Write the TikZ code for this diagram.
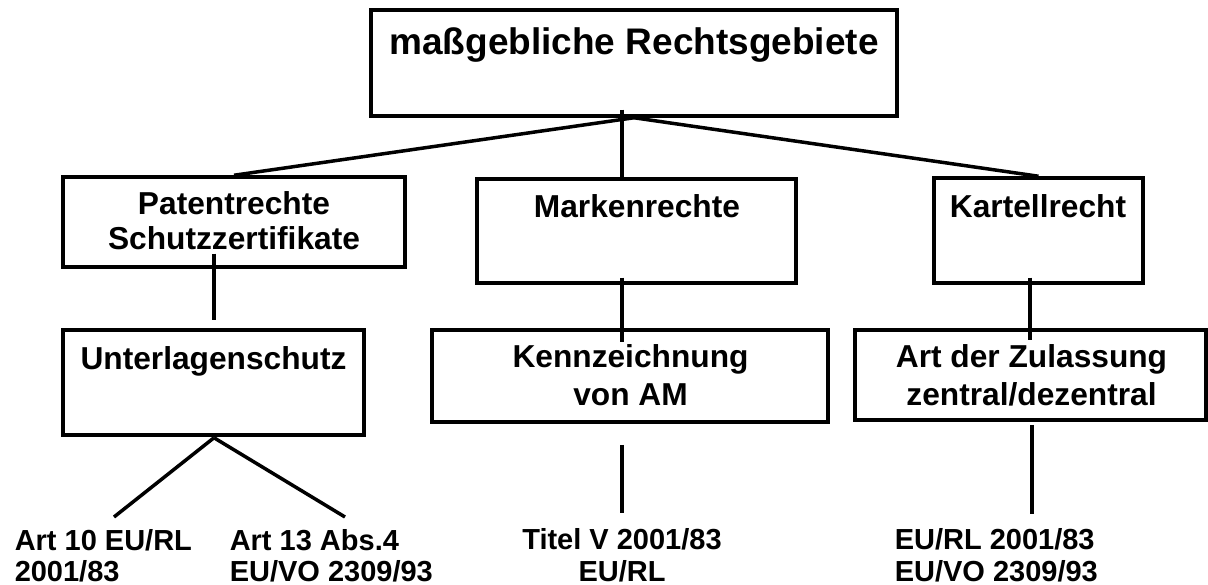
\documentclass[tikz,border=0pt]{standalone}
\usepackage{fontspec}
\setmainfont{Liberation Sans}
\usetikzlibrary{calc}
\newcommand\ftop{\fontsize{37}{44}\selectfont\bfseries}
\newcommand\fmid{\fontsize{31.7}{37}\selectfont\bfseries}
\newcommand\fbot{\fontsize{29}{33}\selectfont\bfseries}
\begin{document}
\begin{tikzpicture}[x=1pt,y=-1pt,line width=3.5pt,
  box/.style={draw=black,line width=3.5pt,inner sep=0pt,rectangle},
  lbl/.style={inner sep=0pt,anchor=base},
  lblw/.style={inner sep=0pt,anchor=base west},
  conn/.style={draw=black,line width=3.5pt}]
\useasboundingbox (0,0) rectangle (1208,585);
\fill[white] (0,0) rectangle (1208,585);
% boxes
\node[box,minimum width=526pt,minimum height=106pt] (top) at (634,63) {};
\node[box,minimum width=342pt,minimum height=90pt] (pat) at (234,222) {};
\node[box,minimum width=319pt,minimum height=104pt] (mark) at (636.5,231) {};
\node[box,minimum width=209pt,minimum height=105pt] (kart) at (1038.5,230.5) {};
\node[box,minimum width=301pt,minimum height=105pt] (unter) at (213.5,382.5) {};
\node[box,minimum width=396pt,minimum height=92pt] (kennz) at (630,376) {};
\node[box,minimum width=351pt,minimum height=90pt] (zul) at (1030.5,375) {};
% box texts
\node[lbl] (ttop) at (634,55) {\ftop maßgebliche Rechtsgebiete};
\node[lbl] (tpat1) at (234,215) {\fmid Patentrechte};
\node[lbl] (tpat2) at (234,250) {\fmid Schutzzertifikate};
\node[lbl] (tmark) at (637,218) {\fmid Markenrechte};
\node[lbl] (tkart) at (1038,218) {\fmid Kartellrecht};
\node[lbl] (tunter) at (213.5,370) {\fmid Unterlagenschutz};
\node[lbl] (tkennz1) at (630.5,368) {\fmid Kennzeichnung};
\node[lbl] (tkennz2) at (630.5,405) {\fmid von AM};
\node[lbl] (tzul1) at (1031.5,368) {\fmid Art der Zulassung};
\node[lbl] (tzul2) at (1031.5,405) {\fmid zentral/dezentral};
% bottom texts
\node[lblw] (a10a) at (13,550) {\fbot Art 10 EU/RL};
\node[lblw] (a10b) at (13,581) {\fbot 2001/83};
\node[lblw] (a13a) at (228,550) {\fbot Art 13 Abs.4};
\node[lblw] (a13b) at (228,581) {\fbot EU/VO 2309/93};
\node[lbl] (tita) at (622,549) {\fbot Titel V 2001/83};
\node[lbl] (titb) at (622,581) {\fbot EU/RL};
\node[lblw] (eua) at (893,549) {\fbot EU/RL 2001/83};
\node[lblw] (eub) at (893,581) {\fbot EU/VO 2309/93};
% free ends of connectors
\coordinate (e10) at (114,517);
\coordinate (e13) at (345,517);
\coordinate (etit) at (622,513);
\coordinate (eeu) at (1032,514);
% connectors
\draw[conn] (top.south) -- (pat.north);
\draw[conn] (top.south) -- (kart.north);
\draw[conn] ($(top.south)+(-12,-8)$) -- ($(mark.north)+(-14.5,0)$);
\draw[conn] ($(pat.south)+(-20,-15)$) -- ($(unter.north)+(0.5,-8)$);
\draw[conn] ($(mark.south)+(-14.5,-7)$) -- ($(kennz.north)+(-8,14)$);
\draw[conn] ($(kart.south)+(-8.5,-7)$) -- ($(zul.north)+(-0.5,12)$);
\draw[conn] ($(unter.south)+(0.5,1)$) -- (e10);
\draw[conn] ($(unter.south)+(0.5,1)$) -- (e13);
\draw[conn] ($(kennz.south)+(-8,21)$) -- (etit);
\draw[conn] ($(zul.south)+(1.5,3)$) -- (eeu);
\end{tikzpicture}
\end{document}
